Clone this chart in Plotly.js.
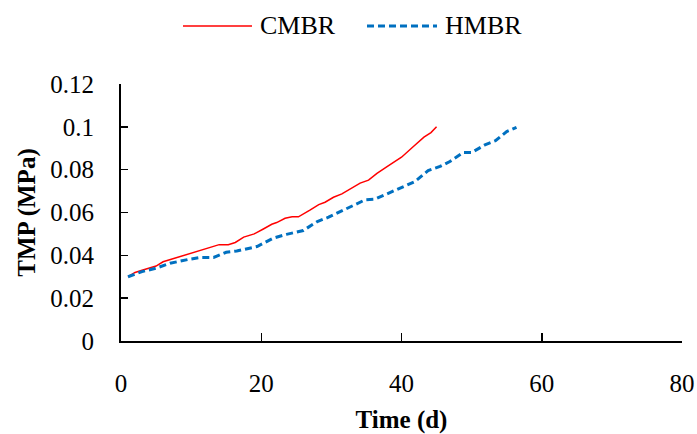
<!DOCTYPE html>
<html>
<head>
<meta charset="utf-8">
<script src="https://cdn.plot.ly/plotly-3.0.1.min.js"></script>
<style>html,body{margin:0;padding:0;background:#fff;}#chart{width:697px;height:434px;}</style>
</head>
<body>
<div id="chart"></div>
<script>
var cmbrDays = [1,2,3,5,6,8,10,12.5,14,15.3,16.3,17.5,19,20.3,21.5,22.2,23.4,24.4,25.3,27,28.2,29.1,30.3,31.5,32.7,34.1,35.3,36.5,38.1,40,41.7,43.2,44.2,45];
var cmbrTMP = [0.030,0.032,0.033,0.035,0.037,0.039,0.041,0.0435,0.045,0.045,0.046,0.0485,0.050,0.0523,0.0545,0.0553,0.0573,0.058,0.058,0.0612,0.0637,0.0648,0.0671,0.0687,0.0709,0.0737,0.0751,0.0783,0.0818,0.0858,0.0908,0.0952,0.0973,0.100];
var hmbrDays = [1,3,5,7,9.8,11.3,13.2,15,16.5,18.4,19.4,21.7,23.6,26,28,29.6,30.8,32.7,34.8,36.2,38.1,40.3,41.9,43.8,45.5,46.9,48.8,50,51.9,53.4,55,56.4];
var hmbrTMP = [0.030,0.0324,0.034,0.0363,0.0382,0.039,0.039,0.0414,0.042,0.0433,0.0441,0.048,0.0498,0.0516,0.0558,0.0578,0.0597,0.0628,0.0659,0.0662,0.069,0.0724,0.0744,0.0796,0.0815,0.0838,0.088,0.088,0.0916,0.0935,0.0978,0.0997];
var seriesNames = ['CMBR', 'HMBR'];
var xTicks = [0,20,40,60,80];
var yTicks = [0,0.02,0.04,0.06,0.08,0.1,0.12];
var yTickText = ['0','0.02','0.04','0.06','0.08','0.1','0.12'];

var font = "'Liberation Serif', 'DejaVu Serif', serif";
var red = '#FF0000', blue = '#0070C0';
var traces = [
  {x: cmbrDays, y: cmbrTMP, name: seriesNames[0], type: 'scatter', mode: 'lines',
   line: {color: red, width: 1.5}},
  {x: hmbrDays, y: hmbrTMP, name: seriesNames[1], type: 'scatter', mode: 'lines',
   line: {color: blue, width: 3, dash: '7px,4px'}}
];
var legY = 1.2257;
var layout = {
  width: 697, height: 434,
  margin: {l: 121, r: 15, t: 84, b: 93},
  paper_bgcolor: '#fff', plot_bgcolor: '#fff',
  font: {family: font, size: 25, color: '#000'},
  showlegend: false,
  shapes: [
    {type: 'line', xref: 'paper', yref: 'paper', x0: 0.1105, x1: 0.2335, y0: legY, y1: legY,
     line: {color: red, width: 1.5}},
    {type: 'line', xref: 'paper', yref: 'paper', x0: 0.4385, x1: 0.5633, y0: legY, y1: legY,
     line: {color: blue, width: 3, dash: '7px,4px'}}
  ],
  annotations: [
    {text: seriesNames[0], xref: 'paper', yref: 'paper', x: 0.2442, y: legY, xanchor: 'left', yanchor: 'middle',
     showarrow: false, font: {size: 26}},
    {text: seriesNames[1], xref: 'paper', yref: 'paper', x: 0.574, y: legY, xanchor: 'left', yanchor: 'middle',
     showarrow: false, font: {size: 26}}
  ],
  xaxis: {range: [0, 80], tickvals: xTicks, ticktext: xTicks.map(String),
          showgrid: false, zeroline: false, showline: true, linecolor: '#000', linewidth: 1.5,
          ticks: 'inside', ticklen: 8, tickwidth: 1.5, tickcolor: '#000', ticklabelstandoff: 19,
          title: {text: '<b>Time (d)</b>', font: {size: 25}, standoff: 15}},
  yaxis: {range: [0, 0.12], tickvals: yTicks, ticktext: yTickText,
          showgrid: false, zeroline: false, showline: true, linecolor: '#000', linewidth: 2,
          ticks: 'inside', ticklen: 7, tickwidth: 1.5, tickcolor: '#000', ticklabelstandoff: 20,
          title: {text: '<b>TMP (MPa)</b>', font: {size: 25}, standoff: 8}}
};
Plotly.newPlot('chart', traces, layout, {displayModeBar: false, staticPlot: true});
</script>
</body>
</html>
